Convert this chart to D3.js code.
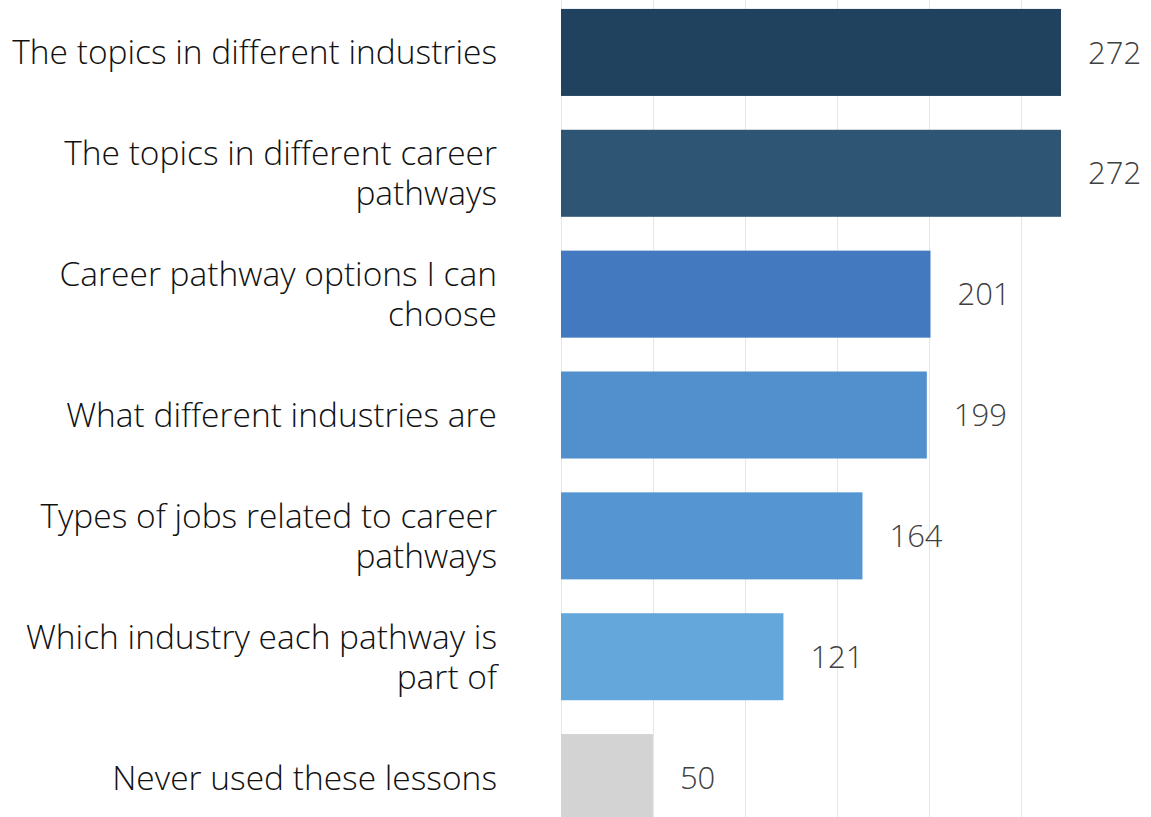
<!DOCTYPE html>
<html>
<head>
<meta charset="utf-8">
<script src="https://cdn.jsdelivr.net/npm/d3@7"></script>
<style>
    html, body { margin: 0; padding: 0; background: #fff; overflow: hidden; }
    text { font-family: "Open Sans", "Lato", sans-serif; font-weight: 300; }
</style>
</head>
<body>
<div class="cichart"></div>
<script>
// categories, one array of lines per label
var categories = [
    ["The topics in different industries"],
    ["The topics in different career", "pathways"],
    ["Career pathway options I can", "choose"],
    ["What different industries are"],
    ["Types of jobs related to career", "pathways"],
    ["Which industry each pathway is", "part of"],
    ["Never used these lessons"]
];
var values = [272, 272, 201, 199, 164, 121, 50];
var barColors = ["#21425f", "#2e5574", "#4279bf", "#518fcd", "#5596d2", "#64a7db", "#d3d3d3"];
var gridTicks = [0, 50, 100, 150, 200, 250];

var width = 1151, height = 817;
var x0 = 561;

var svg = d3.select(".cichart").append("svg")
    .attr("width", width)
    .attr("height", height);

var x = d3.scaleLinear()
    .domain([0, 272])
    .range([x0, 1061]);

var y = d3.scaleBand()
    .domain(d3.range(values.length))
    .range([-8, 838])
    .paddingInner(0.28)
    .paddingOuter(0.14);

// gridlines
svg.selectAll("line.grid")
    .data(gridTicks)
    .enter().append("line")
    .attr("class", "grid")
    .attr("x1", function (d) { return Math.round(x(d)) + 0.5 })
    .attr("x2", function (d) { return Math.round(x(d)) + 0.5 })
    .attr("y1", 0)
    .attr("y2", height)
    .style("stroke", "#e6e6e6")
    .style("stroke-width", 1);

// bars
svg.selectAll("rect.bar")
    .data(values)
    .enter().append("rect")
    .attr("class", "bar")
    .attr("x", x(0))
    .attr("y", function (d, i) { return y(i) })
    .attr("width", function (d) { return x(d) - x(0) })
    .attr("height", y.bandwidth())
    .style("fill", function (d, i) { return barColors[i] });

// value labels
svg.selectAll("text.val")
    .data(values)
    .enter().append("text")
    .attr("class", "val")
    .attr("x", function (d) { return x(d) + 27 })
    .attr("y", function (d, i) { return y(i) + y.bandwidth() / 2 })
    .attr("dy", "0.36em")
    .style("font-size", "31px")
    .style("fill", "#404040")
    .text(function (d) { return d });

// category labels (right aligned), one text per line
var lineH = 40;
categories.forEach(function (lines, i) {
    var cy = y(i) + y.bandwidth() / 2;
    var top = cy - (lines.length - 1) * lineH / 2;
    svg.selectAll("text.cat" + i)
        .data(lines)
        .enter().append("text")
        .attr("class", "cat cat" + i)
        .attr("text-anchor", "end")
        .attr("x", 497)
        .attr("y", function (l, j) { return top + j * lineH })
        .attr("dy", "0.36em")
        .style("font-size", "33.5px")
        .style("fill", "#111")
        .text(function (l) { return l });
});
</script>
</body>
</html>
